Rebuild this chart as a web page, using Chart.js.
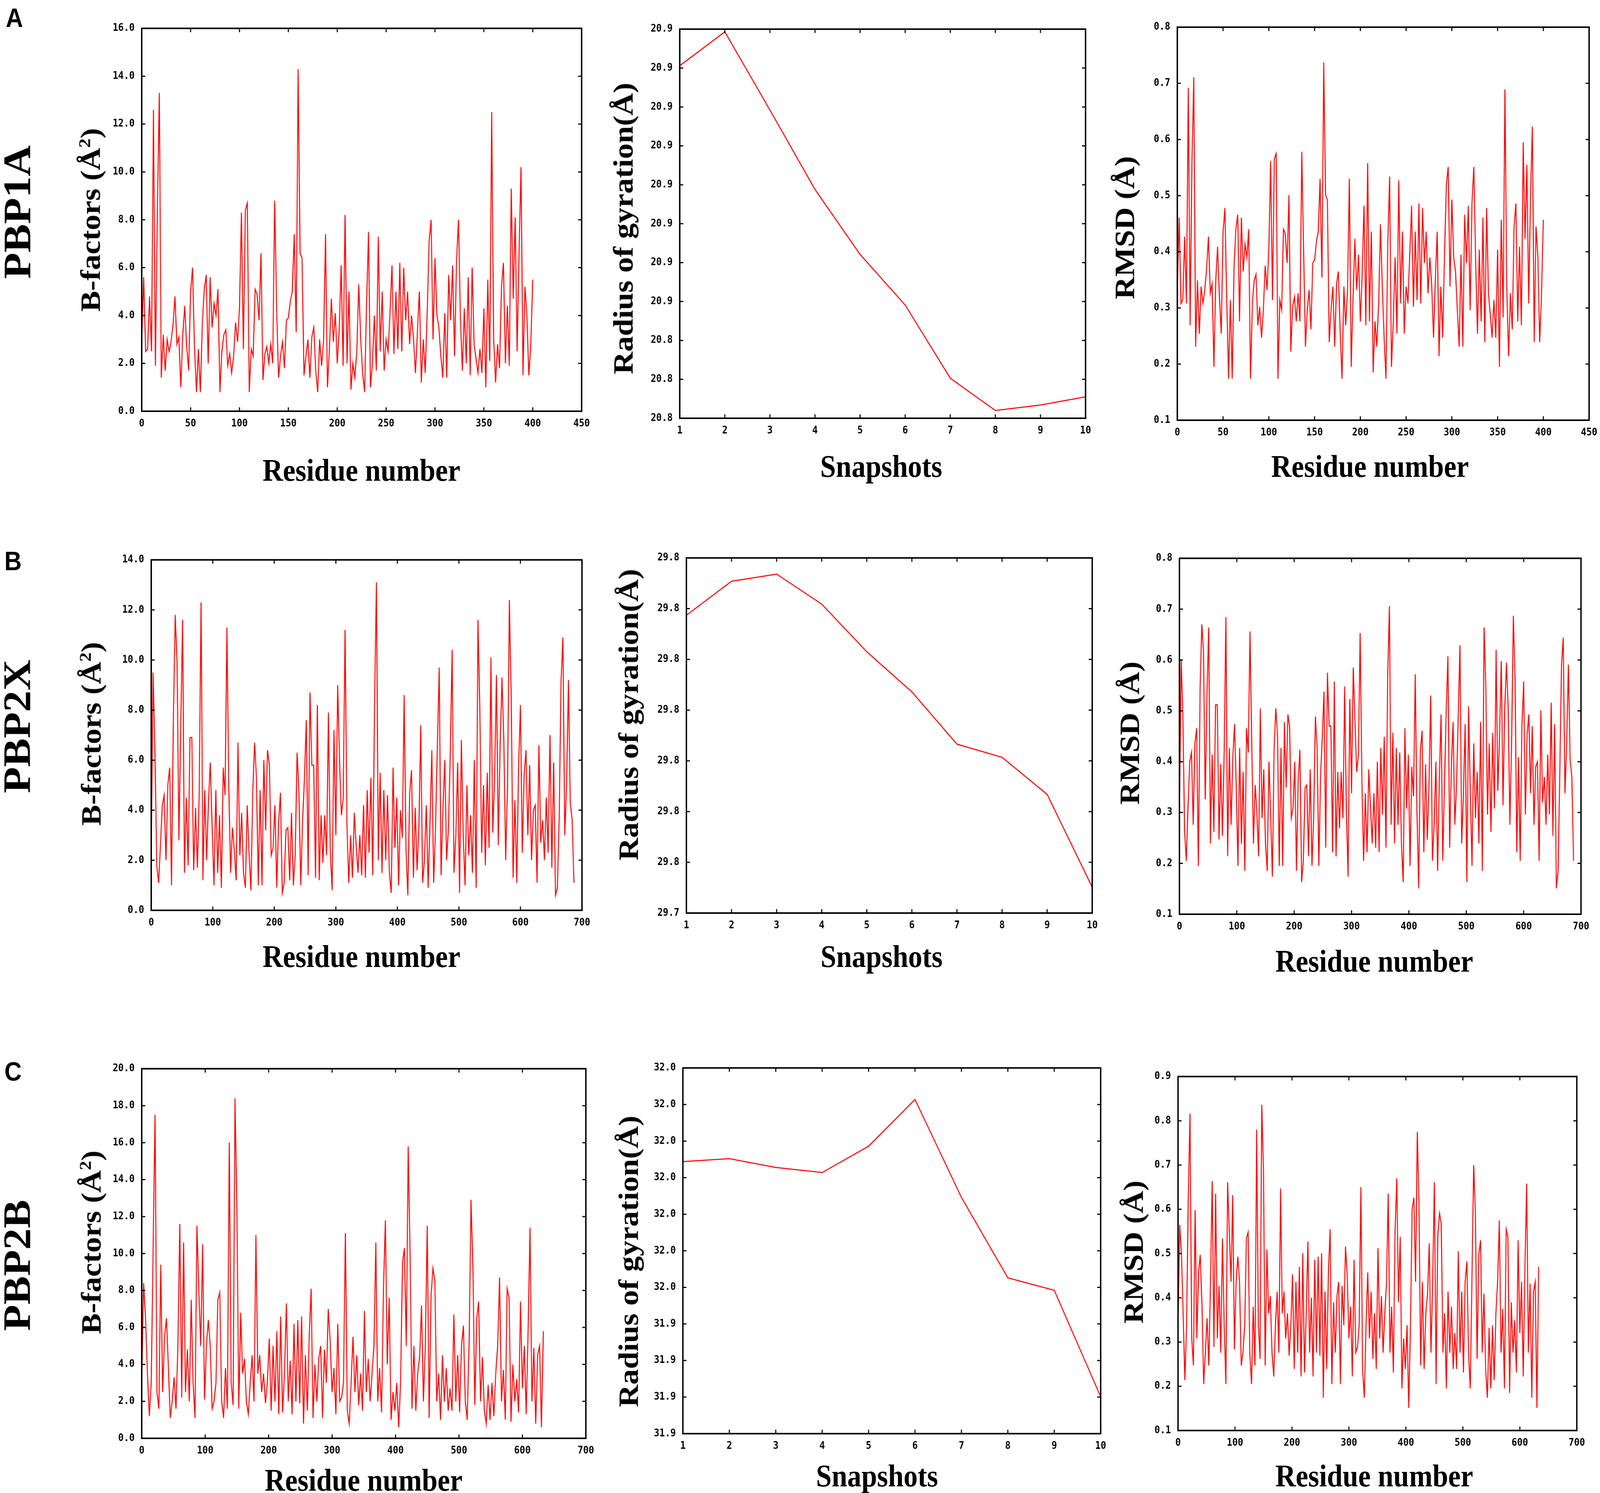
<!DOCTYPE html>
<html><head><meta charset="utf-8">
<script src="https://cdn.jsdelivr.net/npm/chart.js@4.4.1/dist/chart.umd.min.js"></script>
<style>
html,body{margin:0;padding:0;background:#fff;overflow:hidden;}
#stage{position:absolute;left:0;top:0;width:4550px;height:3823px;transform-origin:0 0;background:#fff;}
.panel{position:absolute;z-index:1;}
.panel canvas{display:block;}
.lbl{position:absolute;z-index:2;transform:translate(-50%,-50%);white-space:nowrap;line-height:1;color:#000;}
.rot{transform:translate(-50%,-50%) rotate(-90deg);}
.title{font-family:'Liberation Serif','Times New Roman',serif;font-weight:bold;font-size:80px;}
.row{font-family:'Liberation Serif','Times New Roman',serif;font-weight:bold;font-size:110px;}
.letter{font-family:'Liberation Sans',Arial,sans-serif;font-weight:bold;font-size:68px;}
sup{font-size:60%;line-height:0;}
</style></head><body>
<div id="stage"></div>
<script>
// ---------- data ----------
const snapshots = [1,2,3,4,5,6,7,8,9,10];

// PBP1A: residues 0..400, every 2nd residue
const pbp1aStep = 2;
const pbp1aBfactor = [
2.9,5.6,2.5,2.6,4.8,2.5,12.6,1.9,8.3,13.3,
1.4,3.2,1.7,3.0,2.5,2.9,3.6,4.8,2.8,3.1,
1.0,3.2,4.4,2.7,1.7,5.0,6.0,2.6,0.8,2.6,
0.8,3.7,5.1,5.7,2.0,5.6,3.5,4.5,4.0,5.1,
0.8,2.5,3.2,3.4,1.9,2.4,1.6,2.3,3.7,2.9,
4.3,8.3,2.6,8.4,8.7,0.8,2.6,2.3,5.1,4.9,
3.8,6.6,1.3,2.4,2.7,2.0,2.8,2.0,8.8,4.3,
1.4,2.3,2.9,1.8,3.8,3.9,4.6,5.0,7.4,3.3,
14.3,6.6,6.4,1.5,2.3,3.0,1.4,3.1,3.5,1.7,
0.8,3.0,1.9,2.9,7.4,1.0,2.6,4.7,2.9,4.1,
2.0,3.4,6.1,1.9,8.2,2.0,5.0,0.9,2.0,1.4,
2.5,5.3,3.0,1.6,0.8,4.5,7.5,1.0,2.0,4.0,
1.7,7.3,2.5,5.0,1.7,3.0,2.5,4.1,6.1,2.4,
5.0,2.6,6.2,2.5,6.0,3.8,5.0,2.8,4.0,3.0,
1.6,3.3,5.0,1.2,3.0,1.6,4.1,7.1,8.0,3.0,
6.4,4.0,3.5,2.3,1.4,4.1,1.4,5.7,3.8,6.1,
2.3,6.2,8.0,3.9,1.7,4.3,2.0,5.6,1.5,6.0,
2.8,2.2,1.6,2.6,1.6,4.3,1.0,5.5,2.1,12.5,
3.0,1.2,2.8,1.8,5.2,6.2,2.0,4.4,1.9,9.3,
4.7,8.1,2.5,6.7,10.2,1.5,5.2,4.0,1.5,2.8,
5.5];
const pbp1aRmsd = [
.332,.461,.308,.314,.427,.308,.692,.269,.562,.711,
.231,.349,.254,.338,.308,.332,.370,.427,.326,.343,
.195,.349,.409,.320,.254,.436,.478,.314,.174,.314,
.174,.375,.440,.466,.276,.461,.365,.414,.390,.440,
.174,.308,.349,.360,.269,.302,.247,.296,.375,.332,
.404,.562,.314,.565,.575,.174,.314,.296,.440,.432,
.380,.501,.222,.302,.320,.276,.326,.276,.578,.404,
.231,.296,.332,.262,.380,.385,.418,.436,.530,.354,
.737,.501,.493,.239,.296,.338,.231,.343,.365,.254,
.174,.338,.269,.332,.530,.195,.314,.423,.332,.395,
.276,.360,.482,.269,.558,.276,.436,.185,.276,.231,
.308,.449,.338,.247,.174,.414,.534,.195,.276,.390,
.254,.527,.308,.436,.254,.338,.308,.395,.482,.302,
.436,.314,.486,.308,.478,.380,.436,.326,.390,.338,
.247,.354,.436,.214,.338,.247,.395,.520,.551,.338,
.493,.390,.365,.296,.231,.395,.231,.466,.380,.482,
.296,.486,.551,.385,.254,.404,.276,.461,.239,.478,
.326,.289,.247,.314,.247,.404,.195,.457,.283,.689,
.338,.214,.326,.262,.445,.486,.276,.409,.269,.595,
.423,.555,.308,.505,.623,.239,.445,.390,.239,.326,
.457];
const pbp1aRg = [20.9106,20.9193,20.8992,20.8788,20.8621,20.8491,20.8303,20.8220,20.8234,20.8255];

// PBP2X: residues 0..687, every 3rd residue
const pbp2xStep = 3;
const pbp2xBfactor = [
2.2,9.5,6.4,1.8,1.1,2.6,4.2,4.6,2.0,5.0,
5.7,1.0,7.7,11.8,9.9,2.8,7.4,11.6,1.5,4.5,
1.8,6.9,6.9,1.6,4.1,1.7,4.7,12.3,1.2,4.8,
2.0,4.3,5.9,3.3,1.0,4.8,1.5,3.8,0.9,5.7,
4.6,11.3,5.0,1.5,3.3,2.4,1.2,6.7,2.2,3.9,
1.5,0.9,4.2,2.3,0.8,4.7,6.7,5.3,1.0,4.8,
1.0,6.0,3.2,6.4,5.8,2.2,2.5,4.2,0.9,3.5,
4.7,0.7,1.1,3.2,3.3,1.2,3.9,1.0,2.2,6.3,
4.8,1.0,3.6,5.3,7.6,1.4,8.7,5.8,5.8,1.3,
8.2,1.2,3.8,1.9,3.8,2.2,7.9,2.4,0.8,7.2,
3.0,9.0,6.0,3.8,4.5,11.2,3.5,1.1,3.0,1.3,
3.9,2.6,1.5,3.0,1.4,4.2,1.3,4.8,2.3,5.3,
1.4,8.4,13.1,2.0,5.5,1.5,4.8,2.0,4.6,1.5,
0.7,5.7,2.5,4.5,1.0,4.0,2.9,8.6,2.4,0.6,
4.7,5.6,1.3,4.1,1.6,3.3,7.4,1.1,2.0,4.2,
0.9,3.5,6.4,1.1,3.3,6.6,9.7,1.4,4.0,6.0,
2.0,3.3,6.3,10.4,1.5,3.0,5.9,0.7,6.8,3.0,
1.0,5.0,2.2,3.8,1.5,6.0,0.9,11.6,8.0,2.3,
5.0,1.8,5.5,2.5,10.1,3.1,5.3,9.4,2.6,6.6,
9.3,6.8,2.0,5.0,12.4,8.5,1.3,4.4,1.1,5.8,
8.2,2.3,5.4,6.4,3.0,5.8,2.0,4.0,4.2,1.1,
6.6,2.7,3.6,2.0,4.5,2.3,7.0,1.7,5.9,0.6,
0.9,3.7,9.2,10.9,3.0,5.0,9.2,4.3,3.6,1.1];
const pbp2xRmsd = [
.289,.601,.493,.262,.205,.314,.400,.418,.276,.436,
.466,.195,.541,.670,.614,.326,.530,.664,.239,.414,
.262,.512,.512,.247,.395,.254,.423,.684,.214,.427,
.276,.404,.474,.354,.195,.427,.239,.380,.185,.466,
.418,.656,.436,.239,.354,.302,.214,.505,.289,.385,
.239,.185,.400,.296,.174,.423,.505,.449,.195,.427,
.195,.478,.349,.493,.470,.289,.308,.400,.185,.365,
.423,.163,.205,.349,.354,.214,.385,.195,.289,.489,
.427,.195,.370,.449,.538,.231,.575,.470,.470,.222,
.558,.214,.380,.269,.380,.289,.548,.302,.174,.523,
.338,.585,.478,.380,.414,.653,.365,.205,.338,.222,
.385,.314,.239,.338,.231,.400,.222,.427,.296,.449,
.231,.565,.706,.276,.457,.239,.427,.276,.418,.239,
.163,.466,.308,.414,.195,.390,.332,.572,.302,.151,
.423,.461,.222,.395,.247,.354,.530,.205,.276,.400,
.185,.365,.493,.205,.354,.501,.607,.231,.390,.478,
.276,.354,.489,.629,.239,.338,.474,.163,.509,.338,
.195,.436,.289,.380,.239,.478,.185,.664,.551,.296,
.436,.262,.457,.308,.620,.343,.449,.598,.314,.501,
.595,.509,.276,.436,.687,.568,.222,.409,.205,.470,
.558,.296,.453,.493,.338,.470,.276,.390,.400,.205,
.501,.320,.370,.276,.414,.296,.516,.254,.474,.151,
.185,.375,.591,.644,.338,.436,.591,.404,.370,.205];
const pbp2xRg = [29.7987,29.8054,29.8068,29.8009,29.7915,29.7836,29.7733,29.7707,29.7634,29.7451];

// PBP2B: residues 0..633, every 3rd residue
const pbp2bStep = 3;
const pbp2bBfactor = [
2.9,8.4,6.5,3.5,1.2,3.0,10.4,17.5,2.5,1.6,
9.4,2.5,5.5,6.5,3.9,1.1,2.0,3.3,1.6,5.0,
11.6,2.2,10.6,2.5,4.8,2.0,7.5,3.0,1.1,11.5,
8.0,5.0,10.5,2.1,5.0,6.4,5.0,1.6,2.0,3.0,
7.5,7.9,2.0,1.1,3.8,1.6,16.0,3.0,1.8,18.4,
12.4,1.6,6.8,3.5,4.3,2.0,1.3,3.0,4.5,2.0,
11.0,3.5,4.5,2.5,3.5,1.9,3.0,5.4,1.5,5.0,
2.0,5.8,1.3,6.6,1.4,3.5,7.3,2.0,4.2,1.3,
6.2,2.0,6.4,1.9,6.6,0.8,4.5,1.5,5.5,8.1,
1.1,4.0,2.0,4.3,5.0,1.1,4.8,3.0,7.0,5.3,
2.5,3.8,1.3,6.2,2.0,2.2,3.0,11.1,1.5,0.8,
3.0,5.5,2.5,4.5,1.8,3.5,1.5,6.9,2.5,4.3,
2.0,3.5,5.0,10.6,2.0,3.8,1.4,8.0,11.8,4.0,
7.6,1.0,2.5,1.5,3.0,0.6,3.0,9.5,10.3,5.0,
15.8,9.8,1.6,5.0,1.5,3.5,4.4,7.2,2.0,5.0,
11.5,1.1,7.7,9.2,8.5,2.0,3.5,1.0,4.5,2.0,
3.8,1.5,2.7,1.5,6.7,2.0,4.5,1.4,5.0,6.1,
2.0,1.0,5.2,12.9,9.2,1.8,6.5,7.4,2.0,4.4,
1.5,0.8,2.9,1.0,3.0,1.2,3.5,5.0,8.7,2.0,
3.7,1.0,8.1,7.6,0.9,4.0,2.0,3.2,1.4,7.4,
2.7,5.0,1.3,5.8,11.4,2.0,4.9,0.8,4.5,5.0,
0.6,5.8];
const pbp2bRmsd = [
.332,.565,.497,.365,.214,.338,.629,.816,.308,.247,
.598,.308,.457,.497,.385,.205,.276,.354,.247,.436,
.664,.289,.635,.308,.427,.276,.534,.338,.205,.661,
.551,.436,.632,.283,.436,.493,.436,.247,.276,.338,
.534,.548,.276,.205,.380,.247,.780,.338,.262,.836,
.687,.247,.509,.365,.404,.276,.222,.338,.414,.276,
.647,.365,.414,.308,.365,.269,.338,.453,.239,.436,
.276,.470,.222,.501,.231,.365,.527,.276,.400,.222,
.486,.276,.493,.269,.501,.174,.414,.239,.457,.555,
.205,.390,.276,.404,.436,.205,.427,.338,.516,.449,
.308,.380,.222,.486,.276,.289,.338,.650,.239,.174,
.338,.457,.308,.414,.262,.365,.239,.512,.308,.404,
.276,.365,.436,.635,.276,.380,.231,.551,.670,.390,
.538,.195,.308,.239,.338,.151,.338,.601,.626,.436,
.775,.610,.247,.436,.239,.365,.409,.523,.276,.436,
.661,.205,.541,.591,.568,.276,.365,.195,.414,.276,
.380,.239,.320,.239,.505,.276,.414,.231,.436,.482,
.276,.195,.445,.700,.591,.262,.497,.530,.276,.409,
.239,.174,.332,.195,.338,.214,.365,.436,.575,.276,
.375,.195,.555,.538,.185,.390,.276,.349,.231,.530,
.320,.436,.222,.470,.658,.276,.432,.174,.414,.436,
.151,.470];
const pbp2bRg = [31.9844,31.9852,31.9828,31.9814,31.9886,32.0014,31.9746,31.9526,31.9492,31.9201];

// ---------- tick values and labels ----------
const residueTicks450 = [0,50,100,150,200,250,300,350,400,450];
const residueTicks700 = [0,100,200,300,400,500,600,700];
const bfTicks16 = [0,2,4,6,8,10,12,14,16];
const bfTicks14 = [0,2,4,6,8,10,12,14];
const bfTicks20 = [0,2,4,6,8,10,12,14,16,18,20];
const rmsdTicks08 = [0.1,0.2,0.3,0.4,0.5,0.6,0.7,0.8];
const rmsdTicks09 = [0.1,0.2,0.3,0.4,0.5,0.6,0.7,0.8,0.9];
const pbp1aRgTicks = [20.82,20.83,20.84,20.85,20.86,20.87,20.88,20.89,20.90,20.91,20.92];
const pbp1aRgLabels = ['20.8','20.8','20.8','20.9','20.9','20.9','20.9','20.9','20.9','20.9','20.9'];
const pbp2xRgTicks = [29.74,29.75,29.76,29.77,29.78,29.79,29.80,29.81];
const pbp2xRgLabels = ['29.7','29.8','29.8','29.8','29.8','29.8','29.8','29.8'];
const pbp2bRgTicks = [31.91,31.92,31.93,31.94,31.95,31.96,31.97,31.98,31.99,32.00,32.01];
const pbp2bRgLabels = ['31.9','31.9','31.9','31.9','32.0','32.0','32.0','32.0','32.0','32.0','32.0'];

// ---------- layout ----------
const STAGE_W = 4550, STAGE_H = 3823;
const stage = document.getElementById('stage');
const vw = window.innerWidth || document.documentElement.clientWidth || STAGE_W;
const vh = window.innerHeight || document.documentElement.clientHeight || STAGE_H;
stage.style.transform = 'scale(' + (vw/STAGE_W) + ',' + (vh/STAGE_H) + ')';

const PADL = 130, PADR = 60, PADT = 30, PADB = 70, TL = 10;
const tickFont = {family:"'DejaVu Sans Mono', monospace", weight:'bold', size:26};
const fmt1 = v => v.toFixed(1);
const fmt0 = v => String(v);

function residuePoints(vals, step){ return vals.map((v,i)=>({x:i*step, y:v})); }
function snapPoints(vals){ return vals.map((v,i)=>({x:snapshots[i], y:v})); }

const panels = [
 {rect:[403,67,1654,1053], pts:residuePoints(pbp1aBfactor,pbp1aStep), lw:2.8, xT:residueTicks450, xL:residueTicks450.map(fmt0), yT:bfTicks16, yL:bfTicks16.map(fmt1)},
 {rect:[1933,69,3087,1071], pts:snapPoints(pbp1aRg), lw:2.8, xT:snapshots, xL:snapshots.map(fmt0), yT:pbp1aRgTicks, yL:pbp1aRgLabels},
 {rect:[3348,64,4519,1076], pts:residuePoints(pbp1aRmsd,pbp1aStep), lw:2.8, xT:residueTicks450, xL:residueTicks450.map(fmt0), yT:rmsdTicks08, yL:rmsdTicks08.map(fmt1)},
 {rect:[430,1428,1655,2331], pts:residuePoints(pbp2xBfactor,pbp2xStep), lw:2.8, xT:residueTicks700, xL:residueTicks700.map(fmt0), yT:bfTicks14, yL:bfTicks14.map(fmt1)},
 {rect:[1952,1423,3106,2338], pts:snapPoints(pbp2xRg), lw:2.8, xT:snapshots, xL:snapshots.map(fmt0), yT:pbp2xRgTicks, yL:pbp2xRgLabels},
 {rect:[3354,1424,4496,2341], pts:residuePoints(pbp2xRmsd,pbp2xStep), lw:2.8, xT:residueTicks700, xL:residueTicks700.map(fmt0), yT:rmsdTicks08, yL:rmsdTicks08.map(fmt1)},
 {rect:[403,2731,1666,3683], pts:residuePoints(pbp2bBfactor,pbp2bStep), lw:2.8, xT:residueTicks700, xL:residueTicks700.map(fmt0), yT:bfTicks20, yL:bfTicks20.map(fmt1)},
 {rect:[1942,2729,3130,3671], pts:snapPoints(pbp2bRg), lw:2.8, xT:snapshots, xL:snapshots.map(fmt0), yT:pbp2bRgTicks, yL:pbp2bRgLabels},
 {rect:[3350,2751,4484,3663], pts:residuePoints(pbp2bRmsd,pbp2bStep), lw:2.8, xT:residueTicks700, xL:residueTicks700.map(fmt0), yT:rmsdTicks09, yL:rmsdTicks09.map(fmt1)}
];

const frame = {
 id:'frame',
 afterDraw(chart){
  const {ctx, chartArea:a, scales:{x,y}} = chart;
  ctx.save();
  ctx.strokeStyle = '#000'; ctx.lineWidth = 3;
  ctx.beginPath();
  x.ticks.forEach(t=>{const p=x.getPixelForValue(t.value); ctx.moveTo(p,a.bottom); ctx.lineTo(p,a.bottom-TL); ctx.moveTo(p,a.top); ctx.lineTo(p,a.top+TL);});
  y.ticks.forEach(t=>{const p=y.getPixelForValue(t.value); ctx.moveTo(a.left,p); ctx.lineTo(a.left+TL,p); ctx.moveTo(a.right,p); ctx.lineTo(a.right-TL,p);});
  ctx.stroke();
  ctx.lineWidth = 4;
  ctx.strokeRect(a.left, a.top, a.right-a.left, a.bottom-a.top);
  ctx.restore();
 }
};

panels.forEach(p=>{
 const [l,t,r,b] = p.rect;
 const W = r-l+PADL+PADR, H = b-t+PADT+PADB;
 const div = document.createElement('div');
 div.className = 'panel';
 div.style.left = (l-PADL)+'px'; div.style.top = (t-PADT)+'px';
 div.style.width = W+'px'; div.style.height = H+'px';
 const cv = document.createElement('canvas');
 cv.width = W; cv.height = H;
 cv.style.width = W+'px'; cv.style.height = H+'px';
 div.appendChild(cv); stage.appendChild(div);
 new Chart(cv, {
  type:'line',
  data:{datasets:[{data:p.pts, borderColor:'#ff0000', borderWidth:p.lw, pointRadius:0, tension:0, fill:false}]},
  options:{
   responsive:false, animation:false, devicePixelRatio:1,
   layout:{padding:{left:0, top:PADT, right:PADR, bottom:0}},
   plugins:{legend:{display:false}, tooltip:{enabled:false}},
   scales:{
    x:{type:'linear', min:p.xT[0], max:p.xT[p.xT.length-1],
       grid:{display:false, drawTicks:false}, border:{display:false},
       afterFit:s=>{s.height=PADB;},
       afterBuildTicks:s=>{s.ticks=p.xT.map(v=>({value:v}));},
       ticks:{padding:17, font:tickFont, color:'#000', maxRotation:0, autoSkip:false, callback:(v,i)=>p.xL[i]}},
    y:{type:'linear', min:p.yT[0], max:p.yT[p.yT.length-1],
       grid:{display:false, drawTicks:false}, border:{display:false},
       afterFit:s=>{s.width=PADL;},
       afterBuildTicks:s=>{s.ticks=p.yT.map(v=>({value:v}));},
       ticks:{padding:20, font:tickFont, color:'#000', autoSkip:false, callback:(v,i)=>p.yL[i]}}
   }
  },
  plugins:[frame]
 });
});

// ---------- text ----------
const bTitle = 'B-factors (Å<sup>2</sup>)';
const rgTitle = 'Radius of gyration(Å)';
const rmsdTitle = 'RMSD (Å)';
const texts = [
 ['A',41,45,'letter',false],['B',37,1436,'letter',false],['C',37,2743,'letter',false],
 ['PBP1A',49,543,'row',true],['PBP2X',48,1860,'row',true],['PBP2B',48,3240,'row',true],
 [bTitle,257,563,'title',true],[rgTitle,1772,585,'title',true],[rmsdTitle,3198,583,'title',true],
 [bTitle,259,1879,'title',true],[rgTitle,1787,1830,'title',true],[rmsdTitle,3212,1877,'title',true],
 [bTitle,259,3181,'title',true],[rgTitle,1787,3230,'title',true],[rmsdTitle,3223,3206,'title',true],
 ['Residue number',1028,1204,'title',false],['Snapshots',2506,1194,'title',false],['Residue number',3896,1194,'title',false],
 ['Residue number',1028,2449,'title',false],['Snapshots',2507,2449,'title',false],['Residue number',3908,2461,'title',false],
 ['Residue number',1034,3790,'title',false],['Snapshots',2494,3779,'title',false],['Residue number',3908,3779,'title',false]
];
texts.forEach(([h,x,y,c,rot])=>{
 const d = document.createElement('div');
 d.className = 'lbl '+c+(rot?' rot':'');
 d.style.left = x+'px'; d.style.top = y+'px';
 d.innerHTML = h;
 stage.appendChild(d);
});
</script>
</body></html>
